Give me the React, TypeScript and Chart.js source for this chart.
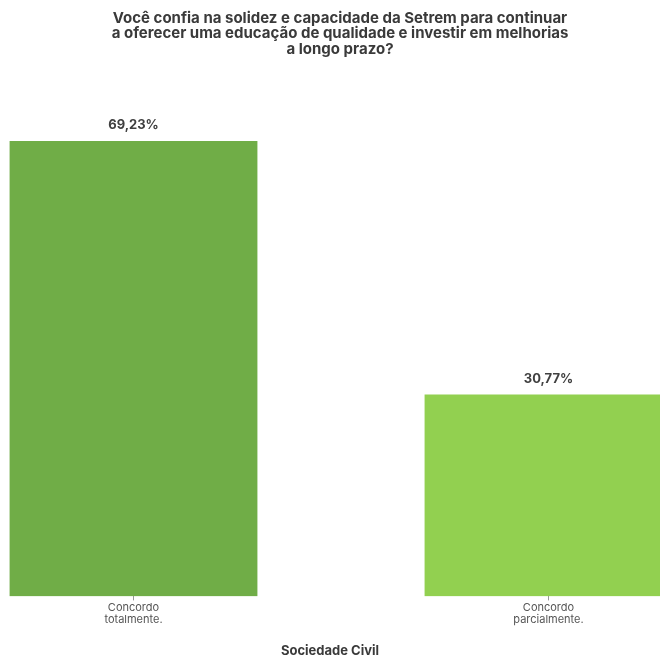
import React, { useEffect, useRef } from "react";
import { Chart, registerables } from "chart.js";

Chart.register(...registerables);

const titleLines = [
  "Você confia na solidez e capacidade da Setrem para continuar",
  "a oferecer uma educação de qualidade e investir em melhorias",
  "a longo prazo?",
];
const categories: string[][] = [
  ["Concordo", "totalmente."],
  ["Concordo", "parcialmente."],
];
const percentValues = [69.23, 30.77];
const valueLabels = ["69,23%", "30,77%"];
const barColors = ["#70AD47", "#92D050"];
const axisTitle = "Sociedade Civil";

const FONT = "Inter, 'Noto Sans', sans-serif";

const dataLabelPlugin = {
  id: "dataLabels",
  afterDatasetsDraw(chart: any) {
    const ctx = chart.ctx;
    const meta = chart.getDatasetMeta(0);
    ctx.save();
    ctx.font = `bold 13px ${FONT}`;
    ctx.fillStyle = "#404040";
    ctx.textAlign = "center";
    ctx.textBaseline = "alphabetic";
    meta.data.forEach((bar: any, i: number) => {
      ctx.fillText(valueLabels[i], bar.x, bar.y - 11);
    });
    ctx.restore();
  },
};

const shiftTitlePlugin = {
  id: "shiftTitle",
  afterLayout(chart: any) {
    const t = chart.titleBlock;
    if (t) {
      t.left = 20;
    }
  },
};

export default function App() {
  const canvasRef = useRef<HTMLCanvasElement | null>(null);

  useEffect(() => {
    if (!canvasRef.current) return;
    Chart.defaults.font.family = FONT;
    const chart = new Chart(canvasRef.current, {
      type: "bar",
      data: {
        datasets: [
          {
            data: percentValues.map((v, i) => ({ x: i, y: v })),
            backgroundColor: barColors,
            borderColor: "rgba(255,255,255,0.45)",
            borderWidth: 1,
            barPercentage: 0.602,
            categoryPercentage: 1,
          },
        ],
      },
      options: {
        animation: false,
        responsive: true,
        maintainAspectRatio: false,
        layout: { padding: 0 },
        plugins: {
          legend: { display: false },
          tooltip: { enabled: false },
          title: {
            display: true,
            text: titleLines,
            color: "#3a3a3a",
            font: { size: 15, weight: "bold", family: FONT, lineHeight: 1.035 },
            padding: { top: 10.5, bottom: 43 },
          },
        },
        scales: {
          x: {
            type: "linear",
            offset: false,
            min: -0.3217,
            max: 1.2687,
            border: { display: false },
            grid: {
              offset: false,
              drawOnChartArea: false,
              drawTicks: true,
              tickLength: 4,
              color: "#999999",
            },
            ticks: {
              stepSize: 1,
              includeBounds: false,
              autoSkip: false,
              maxRotation: 0,
              padding: 1,
              color: "#555555",
              font: { size: 11, family: FONT, lineHeight: 1.1 },
              callback: (value: any) => {
                const idx = Math.round(Number(value));
                return categories[idx] ?? "";
              },
            },
            title: {
              display: true,
              text: axisTitle,
              color: "#3a3a3a",
              font: { size: 13, weight: "bold", family: FONT, lineHeight: 0.8 },
              padding: { top: 19, bottom: 0 },
            },
          },
          y: {
            display: false,
            min: 0,
            max: 75.3,
          },
        },
      },
      plugins: [dataLabelPlugin, shiftTitlePlugin],
    } as any);
    return () => chart.destroy();
  }, []);

  return (
    <div
      style={{
        position: "absolute",
        left: 0,
        top: 0,
        width: 660,
        height: 656,
        background: "#ffffff",
      }}
    >
      <canvas ref={canvasRef} />
    </div>
  );
}
